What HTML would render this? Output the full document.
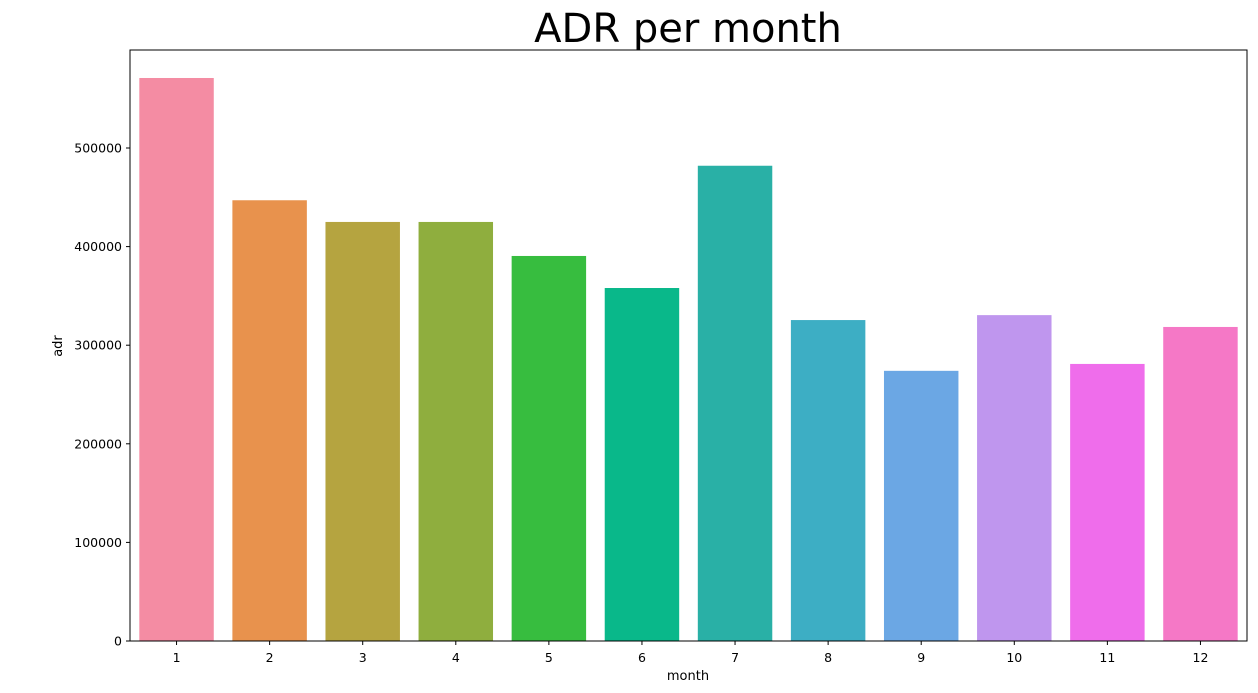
<!DOCTYPE html>
<html><head><meta charset="utf-8"><style>
body{margin:0;background:#fff;}
svg{display:block;font-family:"DejaVu Sans","Liberation Sans",sans-serif;}
</style></head><body>
<svg id="chart" width="1258" height="693">
<text x="688" y="42" font-size="40" text-anchor="middle">ADR per month</text>
<g id="bars"></g>
<g id="yticks"></g>
<g id="xticks"></g>
<rect x="130" y="50" width="1117" height="591" fill="none" stroke="#000" stroke-width="1"/>
<text x="688" y="680" font-size="13" text-anchor="middle">month</text>
<text transform="translate(62,346) rotate(-90)" font-size="13" text-anchor="middle">adr</text>
</svg>
<script>
const months = ["1","2","3","4","5","6","7","8","9","10","11","12"];
const adr = [571000,447000,425000,425000,390500,358000,482000,325500,274000,330500,281000,318500];
const colors = ["#f48ca3","#e8924d","#b5a440","#8fae3e","#37bd3f","#09b88a","#29b0a6","#3daec4","#6ba7e4","#bf96ee","#ef6deb","#f578c6"];
const yTicks = [0,100000,200000,300000,400000,500000];
const NS="http://www.w3.org/2000/svg";
const L=130,R=1247,T=50,B=641;
const y=v=>B-v*(98.6/100000);
const band=(R-L)/months.length;
const x=i=>L+band*i;
const bars=document.getElementById('bars');
adr.forEach((v,i)=>{
  const r=document.createElementNS(NS,'rect');
  r.setAttribute('x',x(i)+band*0.1);
  r.setAttribute('width',band*0.8);
  r.setAttribute('y',y(v));
  r.setAttribute('height',B-y(v));
  r.setAttribute('fill',colors[i]);
  
  
  bars.appendChild(r);
});
const yg=document.getElementById('yticks');
yTicks.forEach(t=>{
  const l=document.createElementNS(NS,'line');
  l.setAttribute('x1',L-4);l.setAttribute('x2',L);l.setAttribute('y1',y(t));l.setAttribute('y2',y(t));l.setAttribute('stroke','#000');
  
  
  yg.appendChild(l);
  const s=document.createElementNS(NS,'text');
  s.setAttribute('x',L-8);s.setAttribute('y',y(t)+4.5);s.setAttribute('font-size','12.5');s.setAttribute('text-anchor','end');
  s.textContent=t;
  
  
  yg.appendChild(s);
});
const xg=document.getElementById('xticks');
months.forEach((m,i)=>{
  const cx=x(i)+band/2;
  const l=document.createElementNS(NS,'line');
  l.setAttribute('x1',cx);l.setAttribute('x2',cx);l.setAttribute('y1',B);l.setAttribute('y2',B+4);l.setAttribute('stroke','#000');
  
  
  xg.appendChild(l);
  const s=document.createElementNS(NS,'text');
  s.setAttribute('x',cx);s.setAttribute('y',B+21);s.setAttribute('font-size','12.5');s.setAttribute('text-anchor','middle');
  s.textContent=m;
  
  
  xg.appendChild(s);
});
</script>
</body></html>
